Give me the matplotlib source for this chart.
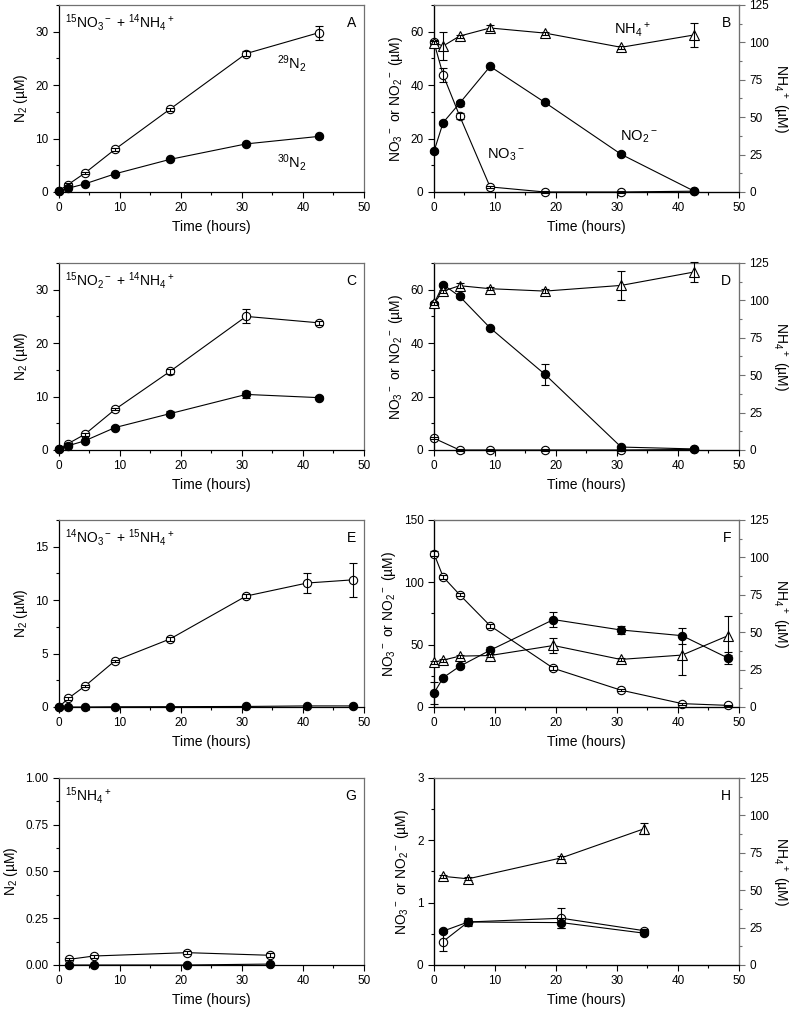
import matplotlib
matplotlib.use("Agg")
import matplotlib.pyplot as plt
from matplotlib.ticker import MultipleLocator

plt.rcParams['font.family'] = ['Liberation Sans', 'DejaVu Sans']
plt.rcParams['mathtext.fontset'] = 'custom'
plt.rcParams['mathtext.rm'] = 'Liberation Sans'
plt.rcParams['mathtext.it'] = 'Liberation Sans:italic'
plt.rcParams['mathtext.bf'] = 'Liberation Sans:bold'

# ---------------- data ----------------
# Panel A: 15NO3- + 14NH4+
tA = [0, 1.5, 4.2, 9.2, 18.2, 30.7, 42.6]
A_29 = [0.25, 1.4, 3.5, 8.0, 15.5, 25.9, 29.8]
A_29_err = [0.1, 0.2, 0.2, 0.3, 0.3, 0.4, 1.3]
A_30 = [0.2, 0.7, 1.5, 3.4, 6.1, 9.0, 10.4]
A_30_err = [0.1, 0.1, 0.1, 0.2, 0.2, 0.2, 0.3]

# Panel B
tB = [0, 1.5, 4.2, 9.2, 18.2, 30.7, 42.6]
B_no3 = [56.0, 43.8, 28.5, 1.9, 0.0, 0.0, 0.3]
B_no3_err = [1.0, 2.5, 1.2, 0.5, 0.2, 0.2, 0.2]
B_no2 = [15.2, 26.0, 33.2, 47.0, 33.5, 14.1, 0.4]
B_no2_err = [0.5, 0.5, 1.0, 0.5, 0.6, 0.8, 0.3]
B_nh4 = [99.8, 97.6, 104.2, 109.6, 106.2, 96.7, 104.9]
B_nh4_err = [1.0, 9.5, 1.0, 2.0, 1.0, 1.0, 7.8]

# Panel C: 15NO2- + 14NH4+
tC = [0, 1.5, 4.2, 9.2, 18.2, 30.7, 42.6]
C_29 = [0.2, 1.2, 2.9, 7.6, 14.7, 25.0, 23.8]
C_29_err = [0.1, 0.2, 0.2, 0.2, 0.5, 1.3, 0.4]
C_30 = [0.2, 0.8, 1.7, 4.2, 6.8, 10.4, 9.8]
C_30_err = [0.1, 0.1, 0.2, 0.2, 0.5, 0.6, 0.3]

# Panel D
tD = [0, 1.5, 4.2, 9.2, 18.2, 30.7, 42.6]
tD_no3 = [0, 4.2, 9.2, 18.2, 30.7, 42.6]
D_no3 = [4.4, 0.0, 0.0, 0.0, 0.0, 0.2]
D_no3_err = [0.3, 0.2, 0.2, 0.2, 0.2, 0.2]
D_no2 = [54.8, 61.9, 57.5, 45.7, 28.3, 1.1, 0.4]
D_no2_err = [0.5, 0.5, 0.8, 0.5, 3.8, 0.5, 0.3]
D_nh4 = [98.2, 106.2, 109.8, 107.8, 106.2, 110.0, 118.9]
D_nh4_err = [1.0, 1.0, 1.5, 1.0, 1.5, 9.6, 6.7]

# Panel E: 14NO3- + 15NH4+
tE = [0, 1.5, 4.2, 9.2, 18.2, 30.7, 40.7, 48.3]
E_29 = [0.0, 0.8, 1.93, 4.33, 6.36, 10.38, 11.6, 11.9]
E_29_err = [0.05, 0.1, 0.1, 0.1, 0.15, 0.15, 0.95, 1.6]
E_30 = [0.0, 0.0, 0.0, 0.02, 0.03, 0.05, 0.1, 0.1]
E_30_err = [0.02, 0.02, 0.02, 0.02, 0.02, 0.02, 0.03, 0.03]

# Panel F
tF = [0, 1.5, 4.2, 9.2, 19.6, 30.6, 40.7, 48.2]
F_no3 = [123.0, 104.3, 90.1, 65.2, 31.0, 13.6, 2.7, 1.3]
F_no3_err = [2.0, 1.5, 1.2, 1.5, 1.5, 1.0, 0.8, 0.5]
F_no2 = [11.2, 23.5, 32.6, 45.5, 70.1, 61.8, 57.2, 39.3]
F_no2_err = [9.0, 1.0, 1.0, 3.0, 6.0, 3.0, 6.5, 5.0]
F_nh4 = [30.0, 31.3, 34.0, 34.4, 41.1, 31.8, 34.7, 47.6]
F_nh4_err = [1.0, 1.0, 1.0, 1.0, 5.0, 1.0, 13.0, 13.0]

# Panel G: 15NH4+
tG = [1.6, 5.7, 21.0, 34.6]
G_29 = [0.03, 0.048, 0.066, 0.052]
G_29_err = [0.005, 0.008, 0.008, 0.01]
G_30 = [0.0, 0.0, 0.0, 0.005]
G_30_err = [0.003, 0.003, 0.003, 0.003]

# Panel H
tH = [1.4, 5.6, 20.9, 34.5]
H_nh4 = [59.3, 57.6, 71.6, 91.1]
H_nh4_err = [1.0, 1.0, 1.0, 3.5]
H_no3 = [0.37, 0.69, 0.75, 0.55]
H_no3_err = [0.14, 0.05, 0.16, 0.03]
H_no2 = [0.54, 0.69, 0.68, 0.51]
H_no2_err = [0.03, 0.06, 0.08, 0.03]

# ---------------- helpers ----------------
FRAME_GRAY = '#707070'
TICK_FS = 8.5
LABEL_FS = 10
LEFT_LABEL = r'NO$_3$$^-$ or NO$_2$$^-$ (µM)'


def series(ax, x, y, err, marker, filled, ms=6):
    ax.plot(x, y, '-', color='black', lw=0.8, zorder=2, clip_on=False)
    ax.plot(x, y, linestyle='none', marker=marker, ms=ms,
            mfc='black' if filled else 'white', mec='black', mew=0.8,
            zorder=3, clip_on=False)
    ax.errorbar(x, y, yerr=err, fmt='none', ecolor='black', elinewidth=0.8,
                capsize=3, capthick=0.8, zorder=4, clip_on=False)


def style_axes(ax, ymax, ymaj, ymin):
    ax.set_xlim(0, 50)
    ax.set_ylim(0, ymax)
    ax.xaxis.set_major_locator(MultipleLocator(10))
    ax.xaxis.set_minor_locator(MultipleLocator(5))
    ax.yaxis.set_major_locator(MultipleLocator(ymaj))
    ax.yaxis.set_minor_locator(MultipleLocator(ymin))
    ax.tick_params(which='both', direction='out', labelsize=TICK_FS,
                   top=False, right=False)
    ax.tick_params(which='major', length=4, width=0.8)
    ax.tick_params(which='minor', length=2.5, width=0.8)
    ax.spines['left'].set_linewidth(0.9)
    ax.spines['bottom'].set_linewidth(0.9)
    for s in ('top', 'right'):
        ax.spines[s].set_color(FRAME_GRAY)
        ax.spines[s].set_linewidth(0.9)
    ax.set_xlabel('Time (hours)', fontsize=LABEL_FS, labelpad=4)


def style_right(ax2, ymax=125):
    ax2.set_ylim(0, ymax)
    ax2.yaxis.set_major_locator(MultipleLocator(25))
    ax2.yaxis.set_minor_locator(MultipleLocator(12.5))
    ax2.tick_params(which='both', direction='out', labelsize=TICK_FS,
                    colors='black')
    ax2.tick_params(which='major', length=4, width=0.8, color=FRAME_GRAY)
    ax2.tick_params(which='minor', length=2.5, width=0.8, color=FRAME_GRAY)
    ax2.spines['right'].set_color(FRAME_GRAY)
    ax2.spines['top'].set_color(FRAME_GRAY)
    ax2.set_ylabel(r'NH$_4$$^+$ (µM)', fontsize=LABEL_FS, rotation=270,
                   labelpad=14)


fig = plt.figure(figsize=(8, 10.11), dpi=100)

LX, RX, W = 0.07375, 0.5425, 0.381
rows = [0.8101, 0.5549, 0.3007, 0.0455]
H = 0.185

# Panel A
ax = fig.add_axes([LX, rows[0], W, H])
series(ax, tA, A_29, A_29_err, 'o', False)
series(ax, tA, A_30, A_30_err, 'o', True)
style_axes(ax, 35, 10, 5)
ax.set_ylabel(r'N$_2$ (µM)', fontsize=LABEL_FS)
ax.text(0.02, 0.905, r'$^{15}$NO$_3$$^-$ + $^{14}$NH$_4$$^+$', transform=ax.transAxes,
        fontsize=10, ha='left', va='center')
ax.text(0.975, 0.905, 'A', transform=ax.transAxes, fontsize=10, ha='right', va='center')
ax.text(35.7, 24.0, r'$^{29}$N$_2$', fontsize=10.5, ha='left', va='center')
ax.text(35.7, 5.6, r'$^{30}$N$_2$', fontsize=10.5, ha='left', va='center')

# Panel B
ax = fig.add_axes([RX, rows[0], W, H])
ax2 = ax.twinx()
series(ax, tB, B_no3, B_no3_err, 'o', False)
series(ax, tB, B_no2, B_no2_err, 'o', True)
series(ax2, tB, B_nh4, B_nh4_err, '^', False, ms=6.5)
style_axes(ax, 70, 20, 10)
style_right(ax2)
ax.set_ylabel(LEFT_LABEL, fontsize=LABEL_FS)
ax.text(0.975, 0.905, 'B', transform=ax.transAxes, fontsize=10, ha='right', va='center')
ax.text(29.6, 60.6, r'NH$_4$$^+$', fontsize=10.5, ha='left', va='center')
ax.text(30.5, 20.8, r'NO$_2$$^-$', fontsize=10.5, ha='left', va='center')
ax.text(8.7, 13.9, r'NO$_3$$^-$', fontsize=10.5, ha='left', va='center')

# Panel C
ax = fig.add_axes([LX, rows[1], W, H])
series(ax, tC, C_29, C_29_err, 'o', False)
series(ax, tC, C_30, C_30_err, 'o', True)
style_axes(ax, 35, 10, 5)
ax.set_ylabel(r'N$_2$ (µM)', fontsize=LABEL_FS)
ax.text(0.02, 0.905, r'$^{15}$NO$_2$$^-$ + $^{14}$NH$_4$$^+$', transform=ax.transAxes,
        fontsize=10, ha='left', va='center')
ax.text(0.975, 0.905, 'C', transform=ax.transAxes, fontsize=10, ha='right', va='center')

# Panel D
ax = fig.add_axes([RX, rows[1], W, H])
ax2 = ax.twinx()
series(ax, tD_no3, D_no3, D_no3_err, 'o', False)
series(ax, tD, D_no2, D_no2_err, 'o', True)
series(ax2, tD, D_nh4, D_nh4_err, '^', False, ms=6.5)
style_axes(ax, 70, 20, 10)
style_right(ax2)
ax.set_ylabel(LEFT_LABEL, fontsize=LABEL_FS)
ax.text(0.975, 0.905, 'D', transform=ax.transAxes, fontsize=10, ha='right', va='center')

# Panel E
ax = fig.add_axes([LX, rows[2], W, H])
series(ax, tE, E_29, E_29_err, 'o', False)
series(ax, tE, E_30, E_30_err, 'o', True)
style_axes(ax, 17.5, 5, 2.5)
ax.set_ylabel(r'N$_2$ (µM)', fontsize=LABEL_FS)
ax.text(0.02, 0.905, r'$^{14}$NO$_3$$^-$ + $^{15}$NH$_4$$^+$', transform=ax.transAxes,
        fontsize=10, ha='left', va='center')
ax.text(0.975, 0.905, 'E', transform=ax.transAxes, fontsize=10, ha='right', va='center')

# Panel F
ax = fig.add_axes([RX, rows[2], W, H])
ax2 = ax.twinx()
series(ax, tF, F_no3, F_no3_err, 'o', False)
series(ax, tF, F_no2, F_no2_err, 'o', True)
series(ax2, tF, F_nh4, F_nh4_err, '^', False, ms=6.5)
style_axes(ax, 150, 50, 25)
style_right(ax2)
ax.set_ylabel(LEFT_LABEL, fontsize=LABEL_FS)
ax.text(0.975, 0.905, 'F', transform=ax.transAxes, fontsize=10, ha='right', va='center')

# Panel G
ax = fig.add_axes([LX, rows[3], W, H])
series(ax, tG, G_29, G_29_err, 'o', False)
series(ax, tG, G_30, G_30_err, 'o', True)
style_axes(ax, 1.0, 0.25, 0.125)
ax.yaxis.set_major_formatter(matplotlib.ticker.FormatStrFormatter('%.2f'))
ax.set_ylabel(r'N$_2$ (µM)', fontsize=LABEL_FS)
ax.text(0.02, 0.905, r'$^{15}$NH$_4$$^+$', transform=ax.transAxes,
        fontsize=10, ha='left', va='center')
ax.text(0.975, 0.905, 'G', transform=ax.transAxes, fontsize=10, ha='right', va='center')

# Panel H
ax = fig.add_axes([RX, rows[3], W, H])
ax2 = ax.twinx()
series(ax, tH, H_no3, H_no3_err, 'o', False)
series(ax, tH, H_no2, H_no2_err, 'o', True)
series(ax2, tH, H_nh4, H_nh4_err, '^', False, ms=6.5)
style_axes(ax, 3, 1, 0.5)
style_right(ax2)
ax.set_ylabel(LEFT_LABEL, fontsize=LABEL_FS)
ax.text(0.975, 0.905, 'H', transform=ax.transAxes, fontsize=10, ha='right', va='center')

fig.savefig('out.png', dpi=100)
